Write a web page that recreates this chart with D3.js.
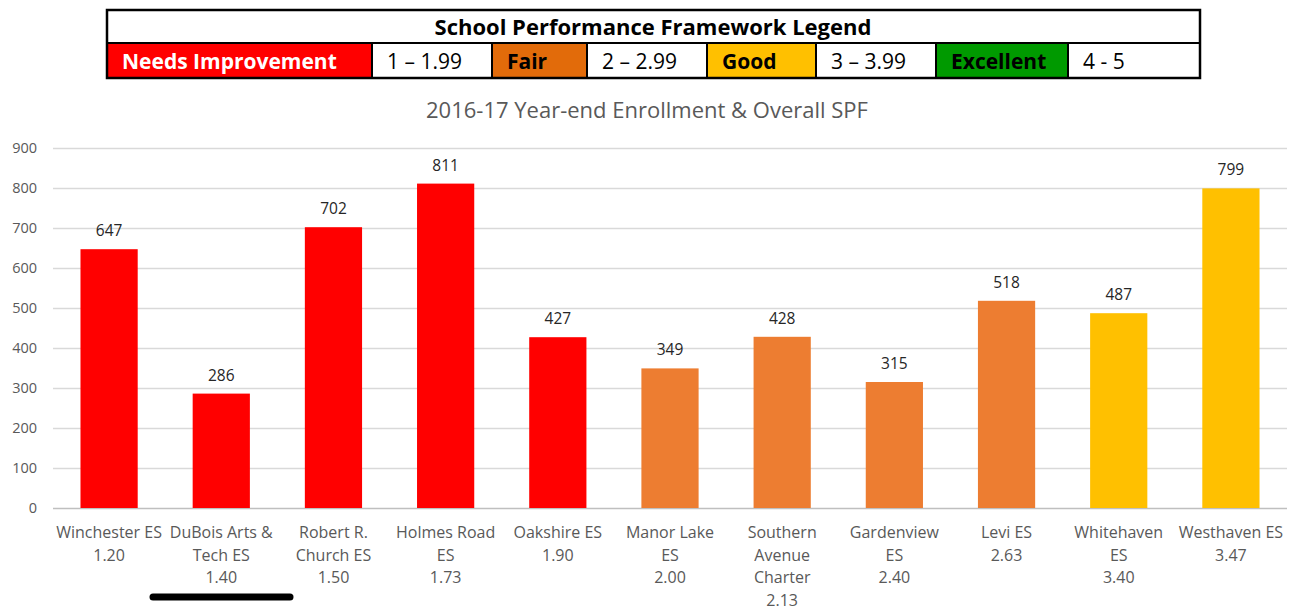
<!DOCTYPE html>
<html>
<head>
<meta charset="utf-8">
<script src="https://cdn.jsdelivr.net/npm/d3@7"></script>
<style>
  body { margin: 0; background: #fff; }
  svg { font-family: "Open Sans", Lato, sans-serif; }
</style>
</head>
<body>
<div id="app"></div>
<script>
// chart data
const schools = ['Winchester ES', 'DuBois Arts & Tech ES', 'Robert R. Church ES', 'Holmes Road ES',
  'Oakshire ES', 'Manor Lake ES', 'Southern Avenue Charter', 'Gardenview ES', 'Levi ES',
  'Whitehaven ES', 'Westhaven ES'];
// how each name wraps under the axis
const labelLines = [['Winchester ES'], ['DuBois Arts &', 'Tech ES'], ['Robert R.', 'Church ES'],
  ['Holmes Road', 'ES'], ['Oakshire ES'], ['Manor Lake', 'ES'], ['Southern', 'Avenue', 'Charter'],
  ['Gardenview', 'ES'], ['Levi ES'], ['Whitehaven', 'ES'], ['Westhaven ES']];
const spf = ['1.20', '1.40', '1.50', '1.73', '1.90', '2.00', '2.13', '2.40', '2.63', '3.40', '3.47'];
const enrollment = [647, 286, 702, 811, 427, 349, 428, 315, 518, 487, 799];
const yTicks = [0, 100, 200, 300, 400, 500, 600, 700, 800, 900];

// legend rows
const legendNames = ['Needs Improvement', 'Fair', 'Good', 'Excellent'];
const legendRanges = ['1 \u2013 1.99', '2 \u2013 2.99', '3 \u2013 3.99', '4 - 5'];

const width = 1296;
const height = 611;

const svg = d3.select('#app')
  .append('svg')
  .attr('width', width)
  .attr('height', height);

// ---- legend table ----
const tbl = {left: 107, right: 1200, top: 10, mid: 43, bottom: 78};
// cell edges: name cell, range cell, name cell, ...
const cellEdges = [107, 372, 492, 587, 707, 816, 936, 1068, 1200];
const legendFill = ['#FF0000', '#E26B0A', '#FFC000', '#009A00'];
const legendText = ['#FFFFFF', '#000000', '#000000', '#000000'];

const legend = svg.append('g').attr('id', 'legend');

legend.append('text')
  .attr('x', 653)
  .attr('y', 35)
  .attr('text-anchor', 'middle')
  .style('font-weight', 'bold')
  .style('font-size', '22px')
  .style('fill', '#000')
  .text('School Performance Framework Legend');

legendNames.forEach((name, i) => {
  const x0 = cellEdges[i * 2];
  const x1 = cellEdges[i * 2 + 1];
  legend.append('rect')
    .attr('x', x0)
    .attr('y', tbl.mid)
    .attr('width', x1 - x0)
    .attr('height', tbl.bottom - tbl.mid)
    .style('fill', legendFill[i]);
  legend.append('text')
    .attr('x', x0 + 15)
    .attr('y', 69)
    .style('font-weight', 'bold')
    .style('font-size', '21px')
    .style('fill', legendText[i])
    .text(name);
  legend.append('text')
    .attr('x', x1 + 15)
    .attr('y', 69)
    .style('font-size', '21px')
    .style('fill', '#000')
    .text(legendRanges[i]);
});

// separators and frame
legend.selectAll('line.sep')
  .data(cellEdges.slice(1, -1))
  .join('line')
  .attr('class', 'sep')
  .attr('x1', d => d)
  .attr('x2', d => d)
  .attr('y1', tbl.mid)
  .attr('y2', tbl.bottom)
  .style('stroke', '#000')
  .style('stroke-width', 2);

legend.append('line')
  .attr('x1', tbl.left)
  .attr('x2', tbl.right)
  .attr('y1', tbl.mid)
  .attr('y2', tbl.mid)
  .style('stroke', '#000')
  .style('stroke-width', 2);

legend.append('rect')
  .attr('x', tbl.left)
  .attr('y', tbl.top)
  .attr('width', tbl.right - tbl.left)
  .attr('height', tbl.bottom - tbl.top)
  .style('fill', 'none')
  .style('stroke', '#000')
  .style('stroke-width', 2.5);

// ---- chart ----
svg.append('text')
  .attr('x', 647)
  .attr('y', 118)
  .attr('text-anchor', 'middle')
  .style('font-size', '22px')
  .style('fill', '#595959')
  .text('2016-17 Year-end Enrollment & Overall SPF');

const plot = {left: 53, right: 1287, top: 148, bottom: 508};

const x = d3.scaleBand()
  .domain(schools)
  .range([plot.left, plot.right])
  .paddingInner(0.49)
  .paddingOuter(0.245);

const y = d3.scaleLinear()
  .domain([0, 900])
  .range([plot.bottom, plot.top]);

// colour of a bar from its SPF score
const band = d3.scaleThreshold()
  .domain([2, 3, 4])
  .range(['#FF0000', '#ED7D31', '#FFC000', '#00A000']);

// gridlines + y labels
const yAxis = svg.append('g')
  .attr('transform', `translate(${plot.left},0)`)
  .call(d3.axisLeft(y).tickValues(yTicks).tickSize(-(plot.right - plot.left)).tickPadding(16));
yAxis.select('.domain').remove();
yAxis.selectAll('.tick line')
  .style('stroke', d => d === 0 ? '#BFBFBF' : '#D9D9D9')
  .style('stroke-width', 1.3);
yAxis.selectAll('.tick text')
  .style('font-family', '"Open Sans", Lato, sans-serif')
  .style('font-size', '14.5px')
  .style('fill', '#595959');

// bars
svg.append('g')
  .selectAll('rect')
  .data(schools)
  .join('rect')
  .attr('x', d => x(d))
  .attr('y', (d, i) => y(enrollment[i]))
  .attr('width', x.bandwidth())
  .attr('height', (d, i) => y(0) - y(enrollment[i]))
  .style('fill', (d, i) => band(+spf[i]));

// value labels
svg.append('g')
  .selectAll('text')
  .data(schools)
  .join('text')
  .attr('x', d => x(d) + x.bandwidth() / 2)
  .attr('y', (d, i) => y(enrollment[i]) - 13)
  .attr('text-anchor', 'middle')
  .style('font-size', '15.5px')
  .style('fill', '#262626')
  .text((d, i) => enrollment[i]);

// category labels (name lines + score)
const xLabels = svg.append('g')
  .selectAll('text')
  .data(schools)
  .join('text')
  .attr('text-anchor', 'middle')
  .style('font-size', '16px')
  .style('fill', '#595959');

xLabels.each(function(d, i) {
  const t = d3.select(this);
  const cx = x(d) + x.bandwidth() / 2;
  labelLines[i].concat([spf[i]]).forEach((line, j) => {
    t.append('tspan')
      .attr('x', cx)
      .attr('y', 538 + j * 22.6)
      .text(line);
  });
});

// black underline mark below DuBois
svg.append('line')
  .attr('x1', 153)
  .attr('x2', 290)
  .attr('y1', 597)
  .attr('y2', 597)
  .style('stroke', '#000')
  .style('stroke-width', 7)
  .style('stroke-linecap', 'round');
</script>
</body>
</html>
